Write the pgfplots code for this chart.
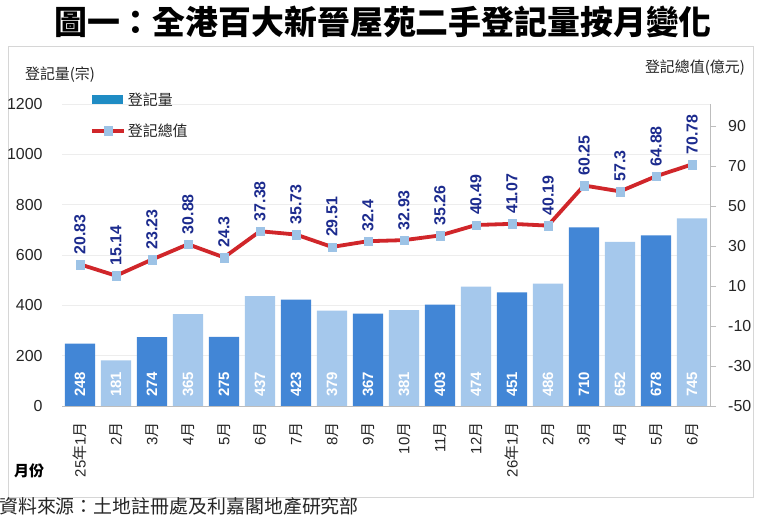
\documentclass[border=0pt]{standalone}
\usepackage{pgfplots}
\pgfplotsset{compat=1.18}
\usepackage{pgfplotstable}
\usepackage{fontspec}
\setmainfont{Liberation Sans}
\newfontfamily\cjk{Noto Sans CJK TC}

\definecolor{bardark}{HTML}{4286D6}
\definecolor{barlight}{HTML}{A5C8EC}
\definecolor{legbar}{HTML}{1F8CC4}
\definecolor{linered}{HTML}{D0262A}
\definecolor{mkblue}{HTML}{9DC3E6}
\definecolor{lblnavy}{HTML}{1C2B8E}
\definecolor{framegray}{HTML}{D6D6D6}
\definecolor{axgray}{HTML}{BDBDBD}
\definecolor{gridgray}{HTML}{EDEDED}
\definecolor{txt}{HTML}{262626}

\newcommand{\Y}{{\cjk 月}}
\newcommand{\N}{{\cjk 年}}

\pgfplotsset{
  long line legend/.style={
    legend image code/.code={\draw[mark repeat=2, mark phase=2, ##1] plot coordinates {(0bp,0bp) (16bp,0bp) (32bp,0bp)};}},
  block legend/.style={
    legend image code/.code={\fill[legbar] (0bp,-4bp) rectangle (30bp,4bp);}},
}

% registrations, odd months from Jan 2025 (darker bars)
\pgfplotstableread{
x n
0 248
2 274
4 275
6 423
8 367
10 403
12 451
14 710
16 678
}\darkbars
% registrations, even months (lighter bars)
\pgfplotstableread{
x n
1 181
3 365
5 437
7 379
9 381
11 474
13 486
15 652
17 745
}\lightbars
% total registered value (HK$ 100 million)
\pgfplotstableread{
x v
0 20.83
1 15.14
2 23.23
3 30.88
4 24.3
5 37.38
6 35.73
7 29.51
8 32.4
9 32.93
10 35.26
11 40.49
12 41.07
13 40.19
14 60.25
15 57.3
16 64.88
17 70.78
}\valueline

\begin{document}
\begin{tikzpicture}[x=1bp,y=1bp]
\useasboundingbox (0,0) rectangle (766,518);
\fill[white] (0,0) rectangle (766,518);
\draw[framegray, line width=1bp] (8,20) rectangle (753,471);

\node[font=\cjk\bfseries\fontsize{33}{36}\selectfont, text=black] at (383,496)
  {圖一：全港百大新晉屋苑二手登記量按月變化};
\node[font=\cjk\fontsize{19}{22}\selectfont, text=txt, anchor=west, inner sep=0pt] at (-1,12)
  {資料來源：土地註冊處及利嘉閣地產研究部};
\node[font=\cjk\fontsize{15}{18}\selectfont, text=txt] at (60,443) {登記量(宗)};
\node[font=\cjk\fontsize{15}{18}\selectfont, text=txt, anchor=east, inner sep=0pt] at (745,450) {登記總值(億元)};
\node[font=\cjk\bfseries\fontsize{15}{18}\selectfont, text=black] at (29,47) {月份};

% left axis: monthly registrations as bars
\begin{axis}[
  at={(62bp,112bp)}, anchor=south west,
  scale only axis, width=648bp, height=302bp,
  xmin=-0.5, xmax=17.5, ymin=0, ymax=1200,
  axis x line*=bottom, axis y line*=left,
  y axis line style={draw=none},
  x axis line style={draw=axgray, line width=0.8bp},
  ybar, bar width=0.835, bar shift=0pt,
  ytick={0,200,...,1200},
  ytick style={draw=none},
  ymajorgrids, grid style={draw=gridgray, line width=0.6bp},
  xtick={0,...,17},
  xticklabels={25\N1\Y,2\Y,3\Y,4\Y,5\Y,6\Y,7\Y,8\Y,9\Y,10\Y,11\Y,12\Y,26\N1\Y,2\Y,3\Y,4\Y,5\Y,6\Y},
  xtick style={draw=none},
  minor xtick={-0.5,0.5,...,17.5},
  minor tick style={draw=axgray, line width=0.8bp},
  minor tick length=5bp, tick align=outside,
  xticklabel style={rotate=90, anchor=east, inner sep=0pt, font=\fontsize{15}{15}\selectfont, text=txt},
  xticklabel shift=12bp,
  yticklabel style={inner sep=0pt, font=\fontsize{16}{16}\selectfont, text=txt},
  yticklabel shift=15bp,
  /pgf/number format/assume math mode=true,
  /pgf/number format/1000 sep={},
  nodes near coords,
  point meta=explicit symbolic,
  visualization depends on=rawy \as \rawy,
  every node near coord/.append style={
    shift={(axis direction cs:0,-\rawy)}, rotate=90, anchor=west,
    inner xsep=9bp, inner ysep=0pt,
    font=\bfseries\fontsize{15}{15}\selectfont, text=white},
]
\addplot[fill=bardark, draw=none] table[x=x, y=n, meta=n] {\darkbars};
\addplot[fill=barlight, draw=none] table[x=x, y=n, meta=n] {\lightbars};
\end{axis}

% right axis: total value as a line
\begin{axis}[
  at={(62bp,112bp)}, anchor=south west,
  scale only axis, width=648bp, height=302bp,
  xmin=-0.5, xmax=17.5, ymin=-50, ymax=101,
  axis x line=none, axis y line*=right,
  y axis line style={draw=axgray, line width=0.8bp},
  ytick={-50,-30,...,90},
  ytick style={draw=axgray, line width=0.8bp},
  tick align=outside, major tick length=6bp,
  yticklabel style={inner sep=0pt, font=\fontsize{16}{16}\selectfont, text=txt},
  yticklabel shift=12bp,
  /pgf/number format/assume math mode=true,
  legend style={at={(0.043,1.045)}, anchor=north west, draw=none, fill=none,
    inner sep=0pt, row sep=13bp,
    font=\cjk\fontsize{15}{15}\selectfont, text=txt,
    nodes={inner sep=2bp}},
  legend cell align=left,
]
\addlegendimage{block legend}
\addlegendentry{登記量}
\addplot[linered, line width=3.8bp, mark=square*,
  mark options={solid, draw=mkblue, fill=mkblue, line width=0.2bp}, mark size=4.3bp,
  long line legend,
  nodes near coords, point meta=explicit symbolic,
  every node near coord/.append style={rotate=90, anchor=west,
    inner xsep=10bp, inner ysep=0pt,
    font=\bfseries\fontsize{16}{16}\selectfont, text=lblnavy}]
  table[x=x, y=v, meta=v] {\valueline};
\addlegendentry{登記總值}
\end{axis}
\end{tikzpicture}
\end{document}
